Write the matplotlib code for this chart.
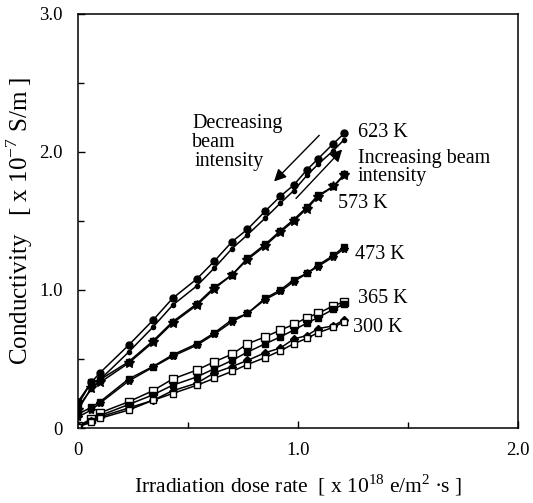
import matplotlib
matplotlib.use("Agg")
import matplotlib.pyplot as plt
from matplotlib.ticker import MultipleLocator

plt.rcParams['font.family'] = ['Liberation Serif', 'DejaVu Serif']
plt.rcParams['mathtext.fontset'] = 'custom'
plt.rcParams['mathtext.rm'] = 'Liberation Serif'

# dose rate [x1e18 e/m2 s]
dose = [0, 0.06, 0.1, 0.23, 0.34, 0.43, 0.54, 0.62, 0.70, 0.77, 0.85, 0.92, 0.98, 1.04, 1.09, 1.16, 1.21]

# conductivity [x1e-7 S/m]
k623_dec = [0.19, 0.33, 0.40, 0.60, 0.78, 0.94, 1.08, 1.21, 1.35, 1.44, 1.57, 1.68, 1.76, 1.87, 1.95, 2.06, 2.135]
k623_inc = [0.15, 0.28, 0.35, 0.55, 0.73, 0.89, 1.03, 1.16, 1.30, 1.40, 1.52, 1.63, 1.72, 1.83, 1.91, 2.01, 2.09]
k573_dec = [0.17, 0.33, 0.35, 0.48, 0.63, 0.77, 0.90, 1.02, 1.11, 1.23, 1.33, 1.43, 1.51, 1.60, 1.685, 1.75, 1.84]
k573_inc = [0.13, 0.29, 0.33, 0.47, 0.62, 0.76, 0.89, 1.01, 1.11, 1.22, 1.32, 1.42, 1.50, 1.59, 1.675, 1.75, 1.83]
k473_dec = [0.10, 0.15, 0.19, 0.355, 0.445, 0.53, 0.61, 0.69, 0.785, 0.83, 0.94, 1.00, 1.075, 1.12, 1.18, 1.25, 1.315]
k473_inc = [0.08, 0.13, 0.18, 0.34, 0.44, 0.52, 0.60, 0.68, 0.77, 0.83, 0.93, 0.99, 1.06, 1.12, 1.17, 1.24, 1.30]
k365_dec = [0.015, 0.065, 0.11, 0.19, 0.27, 0.355, 0.42, 0.48, 0.535, 0.61, 0.66, 0.71, 0.75, 0.80, 0.83, 0.885, 0.915]
k365_inc = [0.01, 0.05, 0.09, 0.17, 0.24, 0.31, 0.37, 0.43, 0.49, 0.55, 0.61, 0.66, 0.71, 0.76, 0.80, 0.86, 0.90]
k300_dec = [0.015, 0.05, 0.08, 0.145, 0.20, 0.27, 0.325, 0.40, 0.445, 0.49, 0.545, 0.58, 0.645, 0.67, 0.72, 0.74, 0.785]
k300_inc = [0.01, 0.04, 0.07, 0.13, 0.20, 0.25, 0.31, 0.36, 0.41, 0.46, 0.51, 0.56, 0.61, 0.65, 0.69, 0.73, 0.77]

temps = ['623 K', '573 K', '473 K', '365 K', '300 K']

fig = plt.figure(figsize=(5.33, 5.03), dpi=100)
ax = fig.add_axes([0.1463, 0.1491, 0.8259, 0.8231])

lw = 1.1
ax.plot(dose, k623_dec, '-o', color='black', lw=lw, ms=5, mfc='black')
ax.plot(dose, k623_inc, '-o', color='black', lw=lw, ms=3, mfc='black')
ax.plot(dose, k573_dec, '-s', color='black', lw=lw, ms=5, mfc='black')
ax.plot(dose, k573_inc, '-*', color='black', lw=lw, ms=7, mfc='black')
ax.plot(dose, k473_dec, '-s', color='black', lw=lw, ms=5, mfc='black')
ax.plot(dose, k473_inc, '-*', color='black', lw=lw, ms=6, mfc='black')
ax.plot(dose, k365_dec, '-s', color='black', lw=lw, ms=6, mfc='white', mew=1.0)
ax.plot(dose, k365_inc, '-s', color='black', lw=lw, ms=5, mfc='black')
ax.plot(dose, k300_dec, '-D', color='black', lw=lw, ms=4.5, mfc='black')
ax.plot(dose, k300_inc, '-s', color='black', lw=lw, ms=4.5, mfc='white', mew=1.0)

ax.set_xlim(0, 2.0)
ax.set_ylim(0, 3.0)
ax.xaxis.set_minor_locator(MultipleLocator(0.5))
ax.yaxis.set_minor_locator(MultipleLocator(0.5))
ax.set_xticks([0, 1.0, 2.0])
ax.set_xticklabels(['0', '1.0', '2.0'])
ax.set_yticks([0, 1.0, 2.0, 3.0])
ax.set_yticklabels(['0', '1.0', '2.0', '3.0'])
ax.tick_params(which='both', direction='in', labelsize=13.5, width=1)
ax.tick_params(which='major', length=5)
ax.tick_params(which='minor', length=4)
ax.tick_params(axis='x', pad=10)
ax.tick_params(axis='y', pad=11)
for s in ax.spines.values():
    s.set_linewidth(1.1)

ax.set_xlabel(r'Irradiation dose rate  [ x 10$^{18}$ e/m$^{2}$ $\bullet$s ]', fontsize=15.5, labelpad=10)
ax.set_ylabel(r'Conductivity   [ x 10$^{-7}$ S/m ]', fontsize=18, labelpad=3)

fs = 14.5
ax.text(1.27, 2.14, temps[0], fontsize=fs, va='center', ha='left')
ax.text(1.27, 1.95, 'Increasing beam', fontsize=fs, va='center', ha='left')
ax.text(1.27, 1.82, 'intensity', fontsize=fs, va='center', ha='left')
ax.text(1.18, 1.63, temps[1], fontsize=fs, va='center', ha='left')
ax.text(1.26, 1.26, temps[2], fontsize=fs, va='center', ha='left')
ax.text(1.27, 0.94, temps[3], fontsize=fs, va='center', ha='left')
ax.text(1.25, 0.73, temps[4], fontsize=fs, va='center', ha='left')
ax.text(0.52, 2.21, 'Decreasing', fontsize=fs, va='center', ha='left')
ax.text(0.52, 2.07, 'beam', fontsize=fs, va='center', ha='left')
ax.text(0.53, 1.93, 'intensity', fontsize=fs, va='center', ha='left')

ax.annotate('', xy=(0.882, 1.772), xytext=(1.105, 2.135),
            arrowprops=dict(arrowstyle='-|>', color='black', lw=1.0, mutation_scale=18))
ax.annotate('', xy=(1.209, 2.033), xytext=(0.982, 1.649),
            arrowprops=dict(arrowstyle='-|>', color='black', lw=1.0, mutation_scale=18))

fig.savefig('out.png', dpi=100)
